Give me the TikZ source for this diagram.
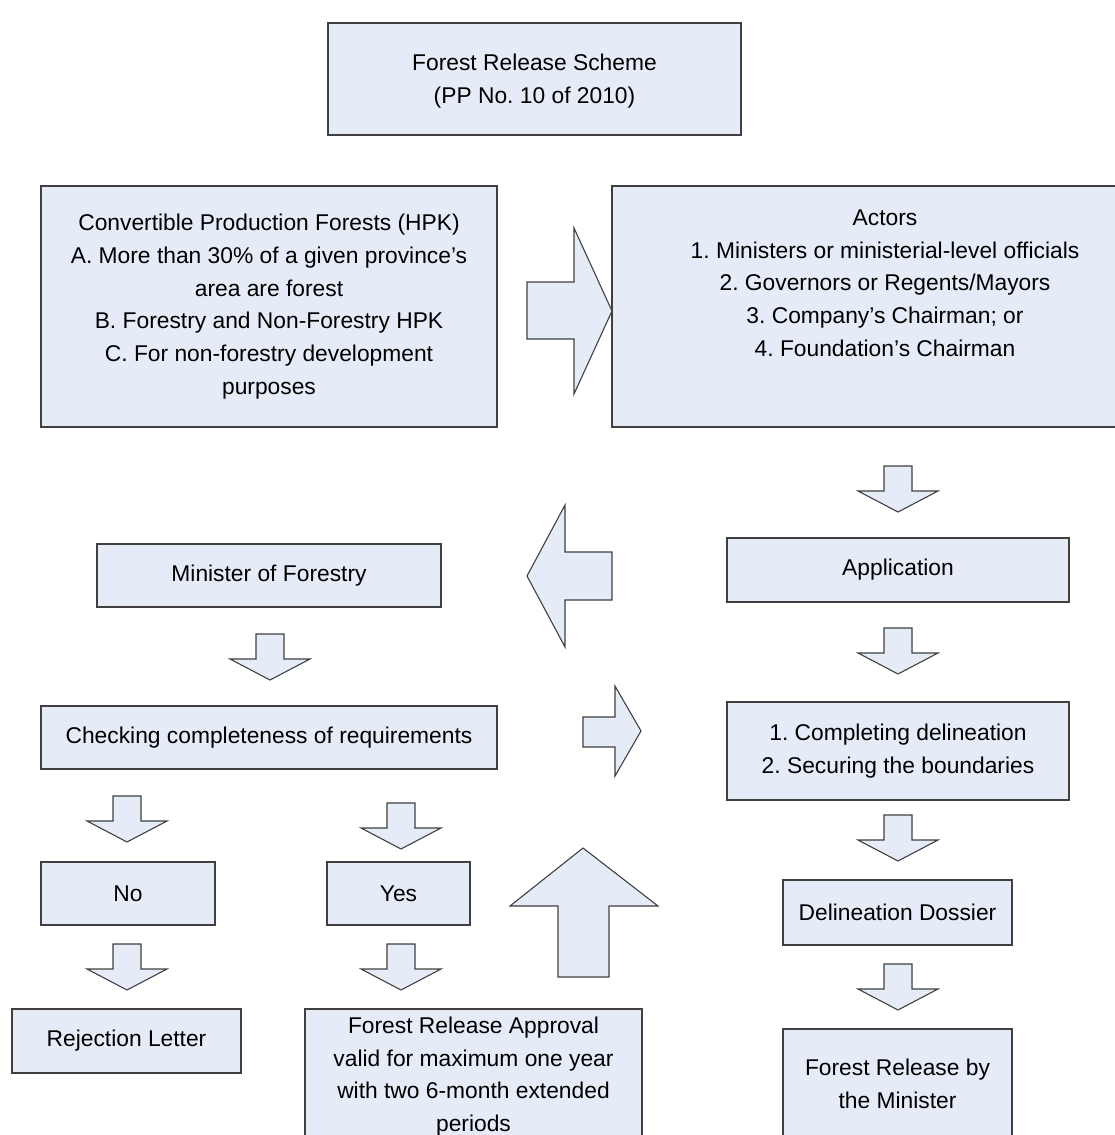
\documentclass[tikz,border=0pt]{standalone}
\usepackage{fontspec}
\setmainfont{Liberation Sans}
\frenchspacing

\definecolor{boxfill}{RGB}{230,236,247}
\definecolor{boxedge}{RGB}{64,64,64}

\tikzset{every picture/.style={line width=1.1pt}}
\tikzset{
  box/.style={draw=boxedge, fill=boxfill, inner sep=0pt, align=center,
    font=\fontsize{22.8}{32.7}\selectfont},
  boxtext/.style={inner sep=0pt, align=center, font=\fontsize{22.8}{32.7}\selectfont},
  blockarrow/.style={draw=boxedge, fill=boxfill, line join=miter}
}

\begin{document}
\begin{tikzpicture}[x=1pt,y=1pt,yscale=-1,xscale=1]
    \useasboundingbox (0,0) rectangle (1114,1135);

    % Title
    \node[box, minimum width=413pt, minimum height=112pt,
      label={[boxtext, yshift=-2pt]center:{Forest Release Scheme\\(PP No. 10 of 2010)}}] (scheme) at (534.5,79) {};

    % Top row
    \node[box, minimum width=456pt, minimum height=241pt] (hpk) at (269,306.5)
      {Convertible Production Forests (HPK)\\A. More than 30\% of a given province’s\\area are forest\\B. Forestry and Non-Forestry HPK\\C. For non-forestry development\\purposes};
    \node[box, minimum width=546pt, minimum height=241pt,
      label={[boxtext, yshift=23.5pt]center:{Actors\\1. Ministers or ministerial-level officials\\2. Governors or Regents/Mayors\\3. Company’s Chairman; or\\4. Foundation’s Chairman}}] (actors) at (885,306.5) {};

    % Right column
    \node[box, minimum width=342pt, minimum height=64pt] (application) at (898,570) {Application};
    \node[box, minimum width=342pt, minimum height=98pt] (delineation) at (898,751) {1. Completing delineation\\2. Securing the boundaries};
    \node[box, minimum width=229pt, minimum height=65pt] (dossier) at (897.5,912.5) {Delineation Dossier};
    \node[box, minimum width=229pt, minimum height=110pt] (release) at (897.5,1084) {Forest Release by\\the Minister};

    % Left column
    \node[box, minimum width=344pt, minimum height=63pt] (minister) at (269,575.5) {Minister of Forestry};
    \node[box, minimum width=456pt, minimum height=63pt] (checking) at (269,737.5) {Checking completeness of requirements};
    \node[box, minimum width=174pt, minimum height=63pt] (no) at (128,893.5) {No};
    \node[box, minimum width=143pt, minimum height=63pt] (yes) at (398.5,893.5) {Yes};
    \node[box, minimum width=229pt, minimum height=64pt] (rejection) at (126.5,1041) {Rejection Letter};
    \node[box, minimum width=337pt, minimum height=135pt] (approval) at (473.5,1076.5)
      {Forest Release Approval\\valid for maximum one year\\with two 6-month extended\\periods};

    %Right Arrow (big)
    \draw[blockarrow] (527,282) -- (574,282) -- (574,228) -- (612,311) -- (574,394) -- (574,339) -- (527,339) -- cycle;
    %Left Arrow (big)
    \draw[blockarrow] (612,552) -- (565,552) -- (565,505) -- (527,576) -- (565,647) -- (565,600) -- (612,600) -- cycle;
    %Up Arrow (big)
    \draw[blockarrow] (558,977) -- (558,906) -- (510,906) -- (583,848) -- (658,906) -- (609,906) -- (609,977) -- cycle;
    %Right Arrow (small)
    \draw[blockarrow] (583,717) -- (615,717) -- (615,686) -- (641,731) -- (615,776) -- (615,747) -- (583,747) -- cycle;

    %Down Arrows
    \foreach \cx/\top in {898/466, 898/628, 270/634, 127/796, 401/803, 898/815, 127/944, 401/944, 898/964}{
      \draw[blockarrow] (\cx-14,\top) -- (\cx+14,\top) -- (\cx+14,\top+25) -- (\cx+40,\top+25)
        -- (\cx,\top+46) -- (\cx-40,\top+25) -- (\cx-14,\top+25) -- cycle;
    }

\end{tikzpicture}
\end{document}
